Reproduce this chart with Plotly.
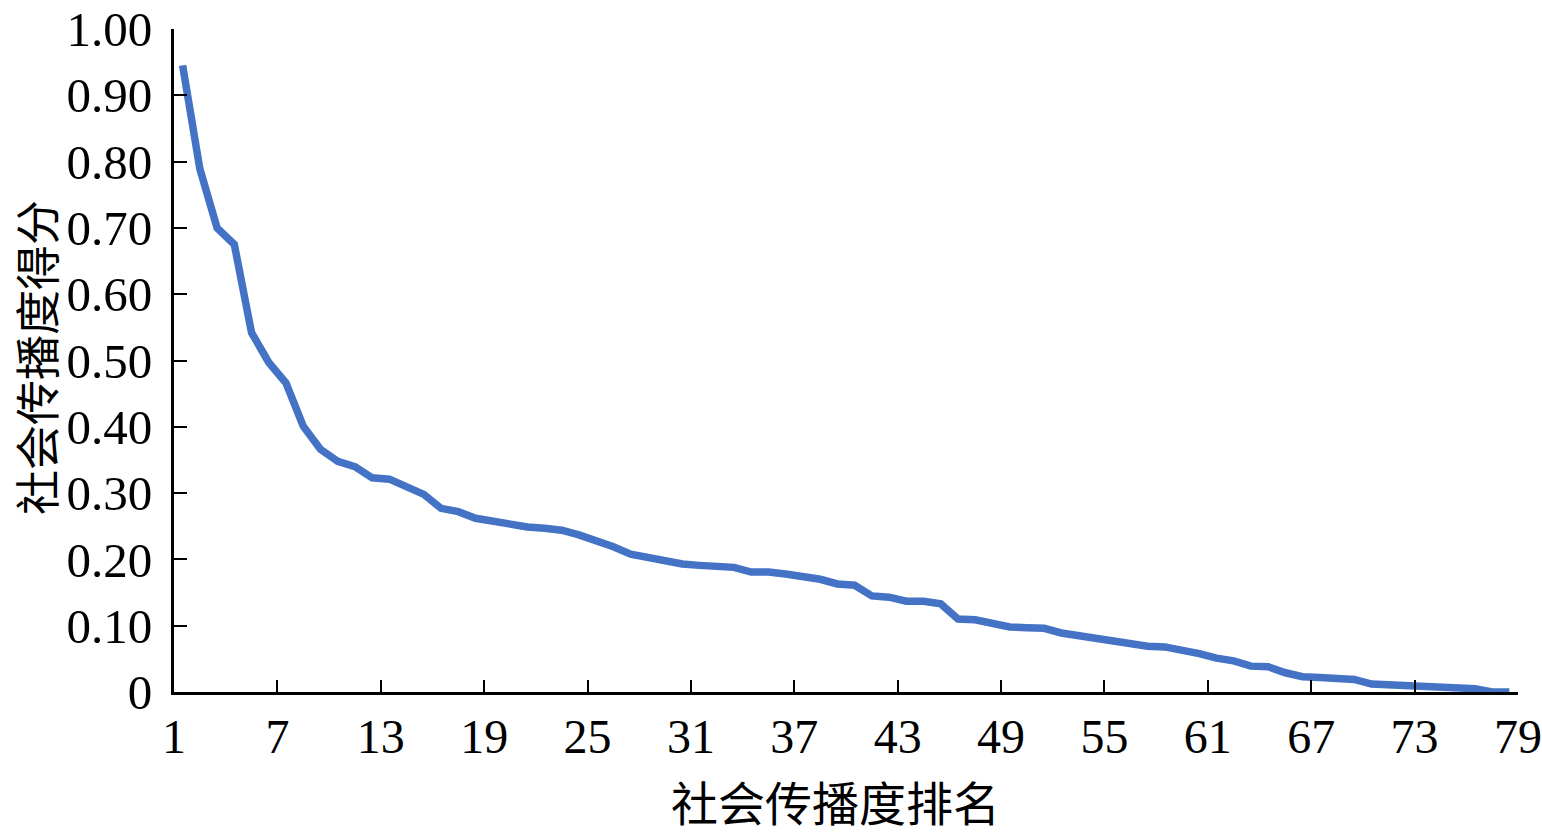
import plotly.graph_objects as go

# Data
ranks = list(range(1, 79))
scores = [0.945, 0.789, 0.700, 0.675, 0.542, 0.497, 0.466, 0.401, 0.366, 0.348,
          0.340, 0.323, 0.321, 0.308, 0.298, 0.277, 0.272, 0.262, 0.257, 0.254,
          0.249, 0.247, 0.244, 0.237, 0.229, 0.219, 0.208, 0.203, 0.198, 0.193,
          0.191, 0.190, 0.188, 0.181, 0.181, 0.178, 0.174, 0.170, 0.163, 0.161,
          0.145, 0.143, 0.137, 0.137, 0.133, 0.110, 0.109, 0.104, 0.098, 0.097,
          0.096, 0.089, 0.085, 0.081, 0.079, 0.074, 0.069, 0.068, 0.064, 0.058,
          0.051, 0.047, 0.039, 0.038, 0.029, 0.023, 0.022, 0.021, 0.019, 0.012,
          0.011, 0.010, 0.009, 0.009, 0.008, 0.005, 0.000, 0.000]
x_tick_labels = [1, 7, 13, 19, 25, 31, 37, 43, 49, 55, 61, 67, 73, 79]
y_tick_values = [0, 0.1, 0.2, 0.3, 0.4, 0.5, 0.6, 0.7, 0.8, 0.9, 1.0]
y_tick_labels = ["0", "0.10", "0.20", "0.30", "0.40", "0.50", "0.60", "0.70", "0.80", "0.90", "1.00"]
x_title = "社会传播度排名"
y_title = "社会传播度得分"

num_font = "Liberation Serif, Times New Roman, serif"
cjk_font = "Noto Sans CJK SC, sans-serif"

fig = go.Figure()
fig.add_trace(go.Scatter(
    x=ranks, y=scores, mode="lines",
    line=dict(color="#4472C4", width=7.5),
    showlegend=False, hoverinfo="x+y",
))

fig.update_layout(
    width=1542, height=834,
    autosize=False,
    margin=dict(l=174, r=24, t=29, b=142, autoexpand=False),
    paper_bgcolor="white", plot_bgcolor="white",
    font=dict(family=num_font, size=48, color="black"),
)

# category-style axis: ticks sit at boundaries between ranks
fig.update_xaxes(
    range=[0.5, 78.5],
    tickmode="array",
    tickvals=[v - 0.5 for v in x_tick_labels],
    ticktext=[str(v) for v in x_tick_labels],
    ticks="inside", ticklen=12, tickwidth=2, tickcolor="black",
    showline=True, linecolor="black", linewidth=3,
    showgrid=False, zeroline=False, automargin=False,
    tickfont=dict(family=num_font, size=48, color="black"),
    ticklabelstandoff=0,
)
fig.update_yaxes(
    range=[0, 1.0],
    tickmode="array",
    tickvals=y_tick_values,
    ticktext=y_tick_labels,
    ticks="inside", ticklen=13, tickwidth=2, tickcolor="black",
    showline=True, linecolor="black", linewidth=3,
    showgrid=False, zeroline=False, automargin=False,
    tickfont=dict(family=num_font, size=49, color="black"),
    ticklabelstandoff=9,
)

fig.add_annotation(
    text=x_title, xref="paper", yref="paper",
    x=0.492, y=-0.163, xanchor="center", yanchor="middle",
    showarrow=False, font=dict(family=cjk_font, size=47, color="black"),
)
fig.add_annotation(
    text=y_title, xref="paper", yref="paper",
    x=-0.1035, y=0.505, xanchor="center", yanchor="middle",
    textangle=-90,
    showarrow=False, font=dict(family=cjk_font, size=45, color="black"),
)

fig.write_html(
    "out.html",
    config={"displayModeBar": False},
    post_script="document.body.style.margin='0';document.body.style.overflow='hidden';",
)
